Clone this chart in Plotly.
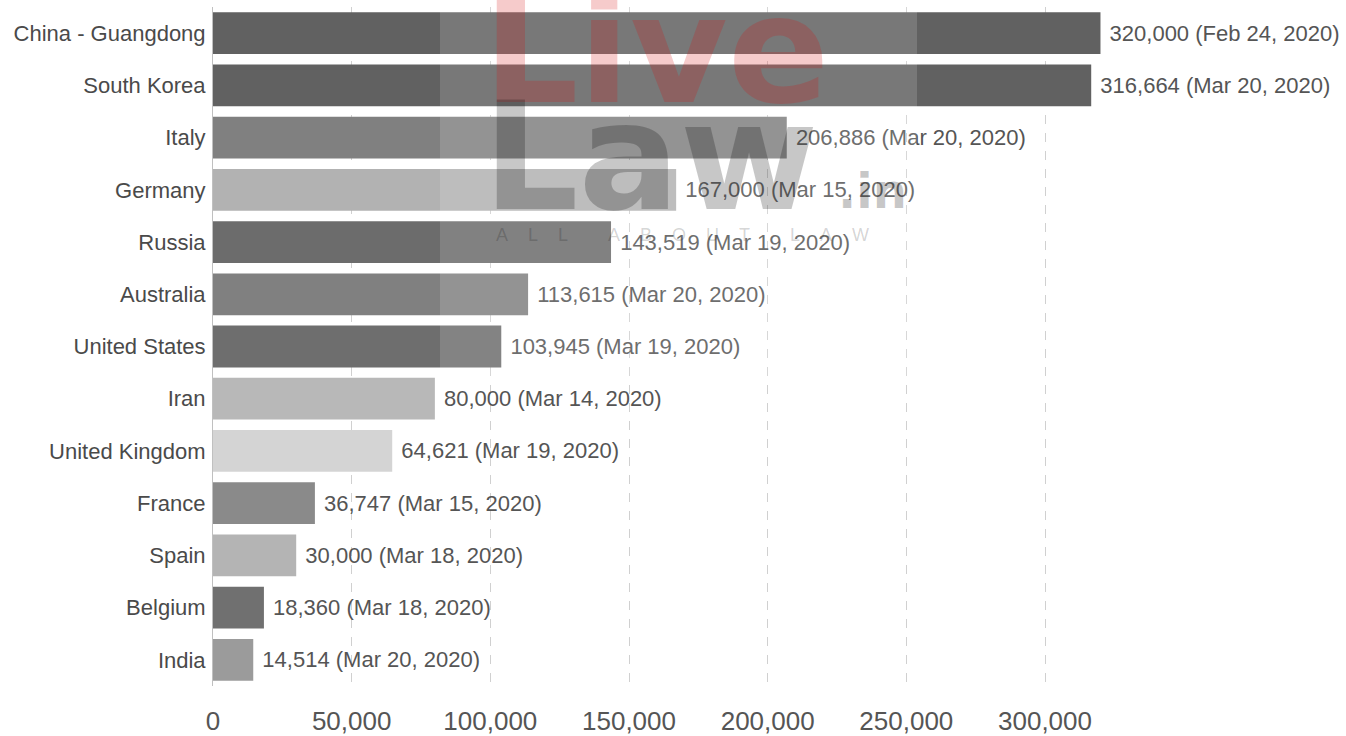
import plotly.graph_objects as go

# ---- data ----
countries = ["China - Guangdong", "South Korea", "Italy", "Germany", "Russia",
             "Australia", "United States", "Iran", "United Kingdom", "France",
             "Spain", "Belgium", "India"]
tests = [320000, 316664, 206886, 167000, 143519, 113615, 103945, 80000,
         64621, 36747, 30000, 18360, 14514]
dates = ["Feb 24, 2020", "Mar 20, 2020", "Mar 20, 2020", "Mar 15, 2020",
         "Mar 19, 2020", "Mar 20, 2020", "Mar 19, 2020", "Mar 14, 2020",
         "Mar 19, 2020", "Mar 15, 2020", "Mar 18, 2020", "Mar 18, 2020",
         "Mar 20, 2020"]
bar_colors = ["#616161", "#616161", "#808080", "#b2b2b2", "#6c6c6c",
              "#808080", "#6e6e6e", "#b8b8b8", "#d4d4d4", "#8a8a8a",
              "#b4b4b4", "#707070", "#9b9b9b"]
tick_vals = [0, 50000, 100000, 150000, 200000, 250000, 300000]
tick_text = ["0", "50,000", "100,000", "150,000", "200,000", "250,000", "300,000"]

labels = ["\u00a0{:,} ({})".format(v, d) for v, d in zip(tests, dates)]

W, H = 1346, 736
ML, MR, MT, MB = 213, 0, 7, 44
PW, PH = W - ML - MR, H - MT - MB


def px(x):
    return (x - ML) / PW


def py(y):
    return 1 - (y - MT) / PH


fig = go.Figure(go.Bar(
    x=tests, y=countries, orientation="h",
    marker=dict(color=bar_colors, line=dict(width=0)),
    text=labels, textposition="outside", cliponaxis=False,
    textfont=dict(family="Liberation Sans, Arial, sans-serif", size=22, color="#555555"),
    hoverinfo="skip",
))

fig.update_layout(
    width=W, height=H,
    margin=dict(l=ML, r=MR, t=MT, b=MB, pad=0),
    paper_bgcolor="white", plot_bgcolor="white",
    bargap=0.2, showlegend=False,
    font=dict(family="Liberation Sans, Arial, sans-serif", color="#4d4d4d"),
    xaxis=dict(range=[0, 300000 * PW / (1045 - ML)], tickvals=tick_vals, ticktext=tick_text,
               showgrid=True, gridcolor="#d0d0d0", griddash="dash", gridwidth=1,
               zeroline=False, showline=False, ticks="",
               tickfont=dict(size=26, color="#555555"), ticklabelstandoff=17),
    yaxis=dict(autorange="reversed", showgrid=False, zeroline=False,
               showline=True, linecolor="#c0c0c0", linewidth=1, ticks="",
               tickfont=dict(size=22, color="#4a4a4a"), ticklabelstandoff=2),
)

# ---- watermark overlay ----
fig.add_shape(type="rect", xref="paper", yref="paper",
              x0=px(440), x1=px(917), y0=py(380), y1=py(-5),
              fillcolor="rgba(255,255,255,0.15)", line=dict(width=0), layer="above")

wm_font = "DejaVu Sans, sans-serif"
fig.add_annotation(xref="paper", yref="paper", x=px(481), y=py(50),
                   xanchor="left", yanchor="middle", showarrow=False,
                   text="<b>Live</b>",
                   font=dict(family=wm_font, size=150, color="rgba(215,20,20,0.22)"))
fig.add_annotation(xref="paper", yref="paper", x=px(481), y=py(158),
                   xanchor="left", yanchor="middle", showarrow=False,
                   text="<b>Law</b>",
                   font=dict(family=wm_font, size=150, color="rgba(0,0,0,0.22)"))
fig.add_annotation(xref="paper", yref="paper", x=px(836), y=py(193),
                   xanchor="left", yanchor="middle", showarrow=False,
                   text="<b>.in</b>",
                   font=dict(family=wm_font, size=48, color="rgba(0,0,0,0.22)"))
wm_tag = "\u00a0\u00a0\u00a0\u00a0\u00a0\u00a0\u00a0\u00a0".join(
    "\u00a0\u00a0\u00a0\u00a0".join(w) for w in ["ALL", "ABOUT", "LAW"])
fig.add_annotation(xref="paper", yref="paper", x=px(494), y=py(237),
                   xanchor="left", yanchor="middle", showarrow=False,
                   text=wm_tag,
                   font=dict(family="Liberation Sans, Arial, sans-serif", size=18,
                             color="rgba(0,0,0,0.18)"))

fig.write_html("out.html")
